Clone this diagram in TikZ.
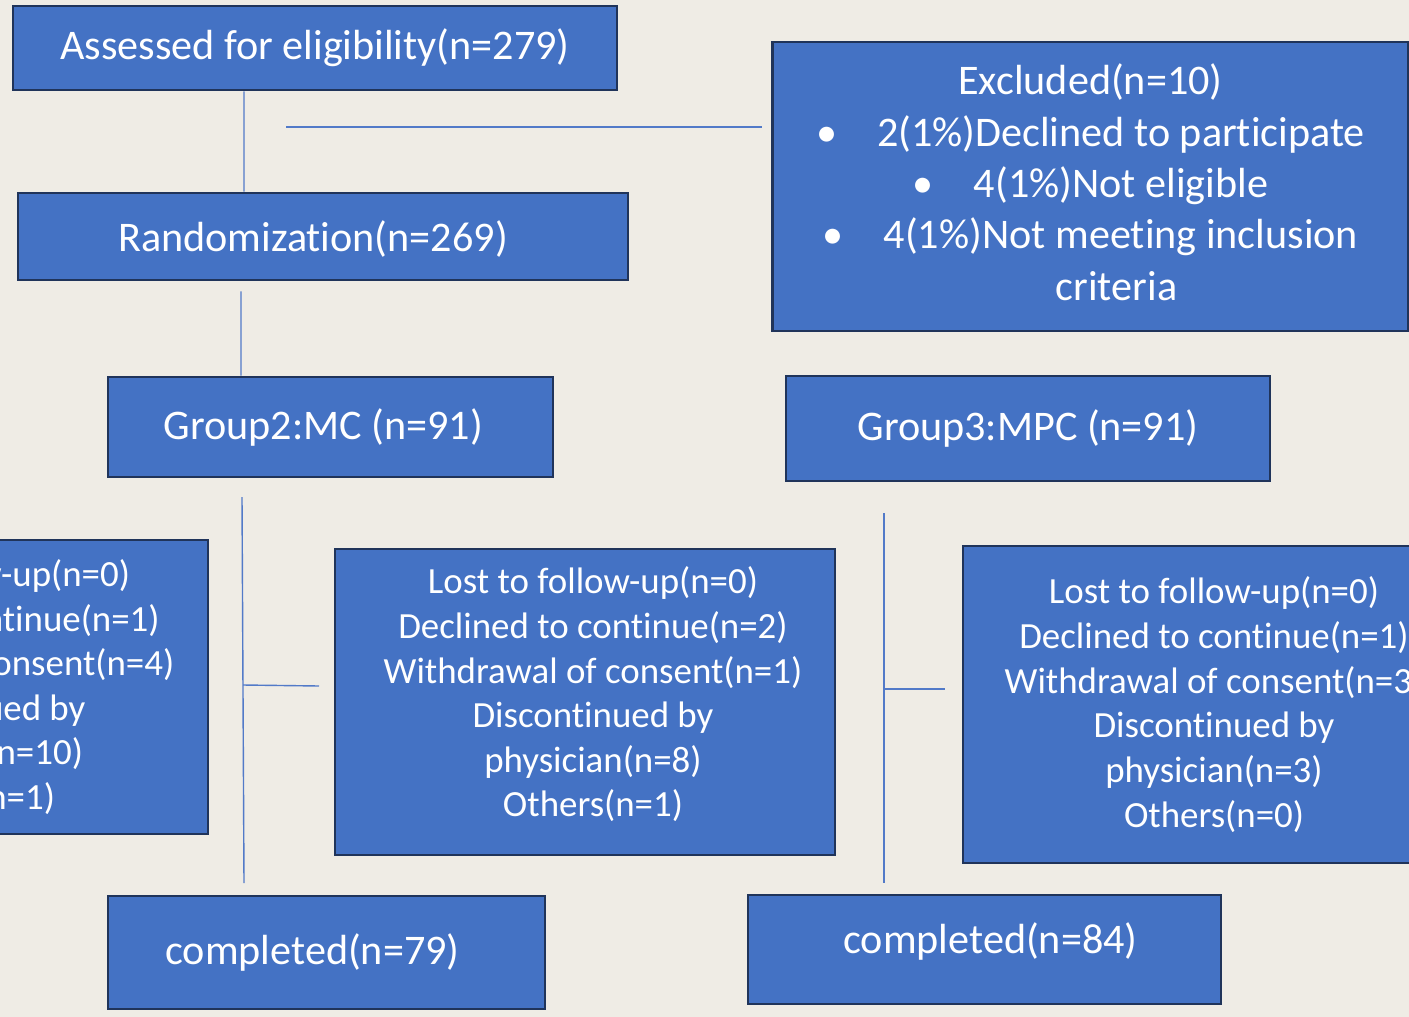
\documentclass[tikz,border=0pt]{standalone}
\usepackage{fontspec}
\setmainfont{Carlito}[Ligatures=NoCommon]
\usepackage{tikz}
\usetikzlibrary{positioning}
\definecolor{paper}{RGB}{239,236,229}
\definecolor{boxblue}{RGB}{68,114,196}
\definecolor{boxedge}{RGB}{32,52,90}
\definecolor{linkblue}{RGB}{82,122,200}
\newcommand{\bigtxt}{\fontsize{24}{29.2}\selectfont}
\newcommand{\smalltxt}{\fontsize{21}{25.4}\selectfont}
\newcommand{\pad}{\hspace*{0.32cm}}

\begin{document}
\begin{tikzpicture}[
        x=0.02cm, y=-0.02cm,
        box/.style={rectangle, draw=boxedge, line width=1.6pt, fill=boxblue, text=white, align=center, inner sep=0pt},
        big/.style={box, font=\bigtxt},
        small/.style={box, font=\smalltxt},
        link/.style={draw=linkblue, line width=0.8pt}
        ]

        \fill[paper] (0,0) rectangle (1409,1017);
        \useasboundingbox (0,0) rectangle (1409,1017);
        \clip (0,0) rectangle (1409,1017);

        % top part
        \node[big, minimum width=12.08cm, minimum height=1.68cm] (assess) at (315,48) {Assessed for eligibility(n=279)};
        \node[big, minimum width=12.2cm, minimum height=1.74cm, text depth=1pt] (rand) at (323,236.5) {Randomization(n=269)\hspace*{0.4cm}};
        \node[big, minimum width=12.72cm, minimum height=5.78cm, text depth=5pt] (excl) at (1090.5,186.5) {Excluded(n=10)\\
            \textbullet\hspace{0.8cm}2(1\%)Declined to participate\\
            \textbullet\hspace{0.8cm}4(1\%)Not eligible\\
            \textbullet\hspace{0.8cm}4(1\%)Not meeting inclusion\\
            \hspace*{1.04cm}criteria};

        % groups
        \node[big, minimum width=8.9cm, minimum height=2.0cm] (g2) at (330.5,427) {Group2:MC (n=91)\hspace*{0.28cm}};
        \node[big, minimum width=9.68cm, minimum height=2.1cm] (g3) at (1028,428.5) {Group3:MPC (n=91)};

        % drop-outs
        \node[small, minimum width=9.72cm, minimum height=5.88cm] (left) at (-35,687) {Lost to follow-up(n=0)\\
            Declined to continue(n=1)\\Withdrawal of consent(n=4)\\Discontinued by\\physician(n=10)\\Others(n=1)};
        \node[small, minimum width=10cm, minimum height=6.12cm, text depth=11.5pt] (mid) at (585,702) {\pad Lost to follow-up(n=0)\\
            \pad Declined to continue(n=2)\\\pad Withdrawal of consent(n=1)\\\pad Discontinued by\\\pad physician(n=8)\\\pad Others(n=1)};
        \node[small, minimum width=10.04cm, minimum height=6.34cm] (right) at (1214,704.5) {Lost to follow-up(n=0)\\
            Declined to continue(n=1)\\Withdrawal of consent(n=3)\\Discontinued by\\physician(n=3)\\Others(n=0)};

        % completed
        \node[big, minimum width=8.74cm, minimum height=2.26cm] (done2) at (326.5,952.5) {completed(n=79)\hspace*{0.56cm}};
        \node[big, minimum width=9.46cm, minimum height=2.18cm, text depth=12.8pt] (done3) at (984.5,949.5) {\hspace*{0.24cm}completed(n=84)};

        % free ends of the lines
        \coordinate (exA) at (286,127);
        \coordinate (exB) at (762,127);
        \coordinate (trA) at (242,497);
        \coordinate (trB) at (244,883);
        \coordinate (brA) at (243,685);
        \coordinate (brB) at (319,686);
        \coordinate (tsA) at (884,513);
        \coordinate (tsB) at (884,883);
        \coordinate (bsA) at (885,689);
        \coordinate (bsB) at (945,689);

        \draw[link] ([xshift=-1.42cm]assess.south) -- ([xshift=-1.58cm]rand.north);
        \draw[link] (exA) -- (exB);
        \draw[link] ([xshift=-1.64cm, yshift=-0.2cm]rand.south) -- ([xshift=-1.79cm]g2.north);
        \draw[link] (trA) -- (trB);
        \draw[link] (brA) -- (brB);
        \draw[link] (tsA) -- (tsB);
        \draw[link] (bsA) -- (bsB);

    \end{tikzpicture}
\end{document}
